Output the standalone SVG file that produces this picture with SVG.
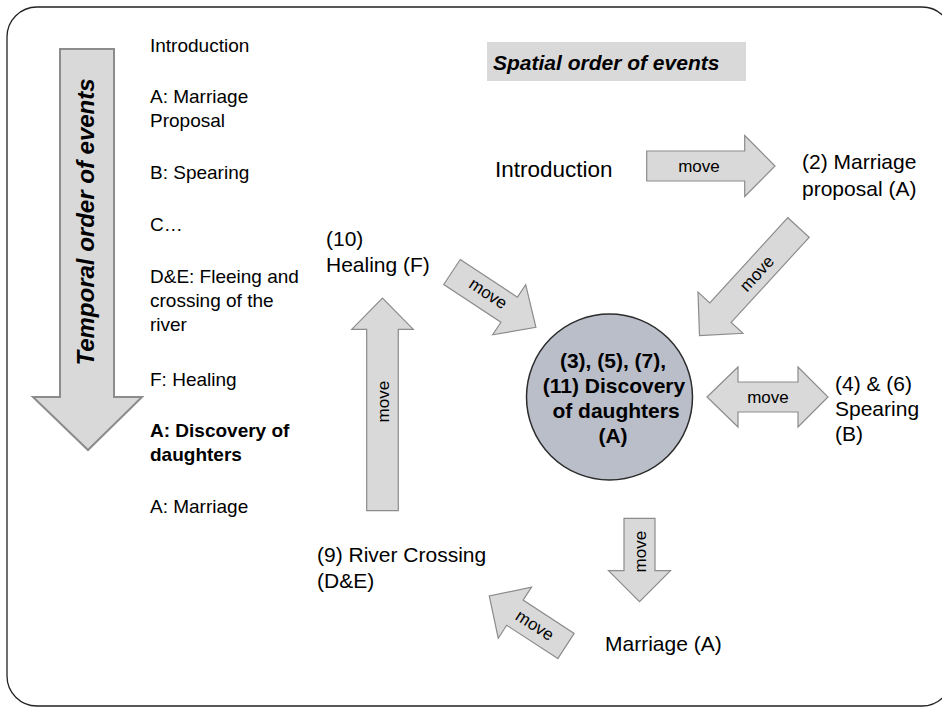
<svg xmlns="http://www.w3.org/2000/svg" width="942" height="707" viewBox="0 0 942 707">
  <defs>
    <style>
      text { font-family: "Liberation Sans", Arial, sans-serif; fill: #000; }
      .list { font-size: 19px; }
      .lbl { font-size: 21px; }
      .bold { font-weight: bold; }
      .title { font-size: 21px; font-weight: bold; font-style: italic; }
      .title-v { font-size: 24px; }
      .lbl-lg { font-size: 22.5px; }
      .mv { font-size: 17px; text-anchor: middle; }
      .arrow { fill: #d9d9d9; stroke: #8c8c8c; stroke-width: 1.2; }
      .big-arrow { fill: #d9d9d9; stroke: #8c8c8c; stroke-width: 2; }
    </style>
  </defs>

  <rect width="942" height="707" fill="#ffffff"/>
  <!-- slide frame -->
  <rect id="frame" x="7" y="7" width="945" height="699" rx="30" ry="30" fill="none" stroke="#222" stroke-width="1.3"/>

  <!-- temporal order column -->
  <g id="temporal">
    <polygon class="big-arrow" points="60,49 114,49 114,397 142,397 88,450 33,397 60,397"/>
    <text class="title title-v" transform="translate(94,222) rotate(-90)" text-anchor="middle">Temporal order of events</text>
  </g>

  <g id="timeline">
    <text class="list" x="150" y="52">Introduction</text>
    <text class="list" x="150" y="103">A: Marriage</text>
    <text class="list" x="150" y="127">Proposal</text>
    <text class="list" x="150" y="179">B: Spearing</text>
    <text class="list" x="150" y="231">C…</text>
    <text class="list" x="150" y="283">D&amp;E: Fleeing and</text>
    <text class="list" x="150" y="307">crossing of the</text>
    <text class="list" x="150" y="331">river</text>
    <text class="list" x="150" y="386">F: Healing</text>
    <text class="list bold" x="150" y="437">A: Discovery of</text>
    <text class="list bold" x="150" y="461">daughters</text>
    <text class="list" x="150" y="513">A: Marriage</text>
  </g>

  <!-- spatial order heading -->
  <g id="spatial-title">
    <rect x="487" y="42" width="259" height="39" fill="#d9d9d9"/>
    <text class="title" x="493" y="70">Spatial order of events</text>
  </g>

  <!-- places -->
  <g id="introduction">
    <text class="lbl lbl-lg" x="495" y="177">Introduction</text>
  </g>
  <g id="proposal">
    <text class="lbl" x="802" y="169">(2) Marriage</text>
    <text class="lbl" x="802" y="196">proposal (A)</text>
  </g>
  <g id="discovery">
    <circle cx="609.5" cy="397" r="83" fill="#b9bec9" stroke="#2b2b2b" stroke-width="1.5"/>
    <text class="lbl bold" text-anchor="middle" x="613" y="368">(3), (5), (7),</text>
    <text class="lbl bold" text-anchor="middle" x="614" y="393">(11) Discovery</text>
    <text class="lbl bold" text-anchor="middle" x="616" y="418">of daughters</text>
    <text class="lbl bold" text-anchor="middle" x="613" y="443">(A)</text>
  </g>
  <g id="spearing">
    <text class="lbl" x="835" y="391">(4) &amp; (6)</text>
    <text class="lbl" x="835" y="416">Spearing</text>
    <text class="lbl" x="835" y="441">(B)</text>
  </g>
  <g id="marriage">
    <text class="lbl" x="605" y="651">Marriage (A)</text>
  </g>
  <g id="river">
    <text class="lbl" x="317" y="562">(9) River Crossing</text>
    <text class="lbl" x="317" y="588">(D&amp;E)</text>
  </g>
  <g id="healing">
    <text class="lbl" x="326" y="246">(10)</text>
    <text class="lbl" x="326" y="272">Healing (F)</text>
  </g>

  <!-- connectors: block arrows labelled "move" -->
  <g id="connectors">
    <!-- Introduction -> Marriage proposal -->
    <polygon class="arrow" transform="translate(646.7,166)" points="0,-15 98,-15 98,-30.5 128.3,0 98,30.5 98,15 0,15"/>
    <text class="mv" x="699" y="172">move</text>

    <!-- Marriage proposal -> Discovery -->
    <polygon class="arrow" transform="translate(798.5,227.5) rotate(132.5)" points="0,-14.5 115.5,-14.5 115.5,-30.5 146.5,0 115.5,30.5 115.5,14.5 0,14.5"/>
    <text class="mv" transform="translate(756.7,273.3) rotate(-47.5)" y="6">move</text>

    <!-- Discovery <-> Spearing -->
    <polygon class="arrow" points="707,397 738,367 738,382 798,382 798,367 828,397 798,427 798,412 738,412 738,427"/>
    <text class="mv" x="768" y="403">move</text>

    <!-- Discovery -> Marriage -->
    <polygon class="arrow" transform="translate(639.5,518.3) rotate(90)" points="0,-15.5 52.4,-15.5 52.4,-31 83.4,0 52.4,31 52.4,15.5 0,15.5"/>
    <text class="mv" transform="translate(639.5,551.7) rotate(-90)" y="6">move</text>

    <!-- Marriage -> River Crossing -->
    <polygon class="arrow" transform="translate(566,646) rotate(213.1)" points="0,-15 61,-15 61,-30.5 91.6,0 61,30.5 61,15 0,15"/>
    <text class="mv" transform="translate(535,625) rotate(33)" y="6">move</text>

    <!-- River Crossing -> Healing -->
    <polygon class="arrow" transform="translate(382.5,510.7) rotate(-90)" points="0,-15.8 181.3,-15.8 181.3,-30.8 212.7,0 181.3,30.8 181.3,15.8 0,15.8"/>
    <text class="mv" transform="translate(382.5,401.7) rotate(-90)" y="6">move</text>

    <!-- Healing -> Discovery -->
    <polygon class="arrow" transform="translate(452,272) rotate(33.4)" points="0,-15 68.5,-15 68.5,-30 100.5,0 68.5,30 68.5,15 0,15"/>
    <text class="mv" transform="translate(488.3,293.3) rotate(33.4)" y="6">move</text>
  </g>
</svg>
